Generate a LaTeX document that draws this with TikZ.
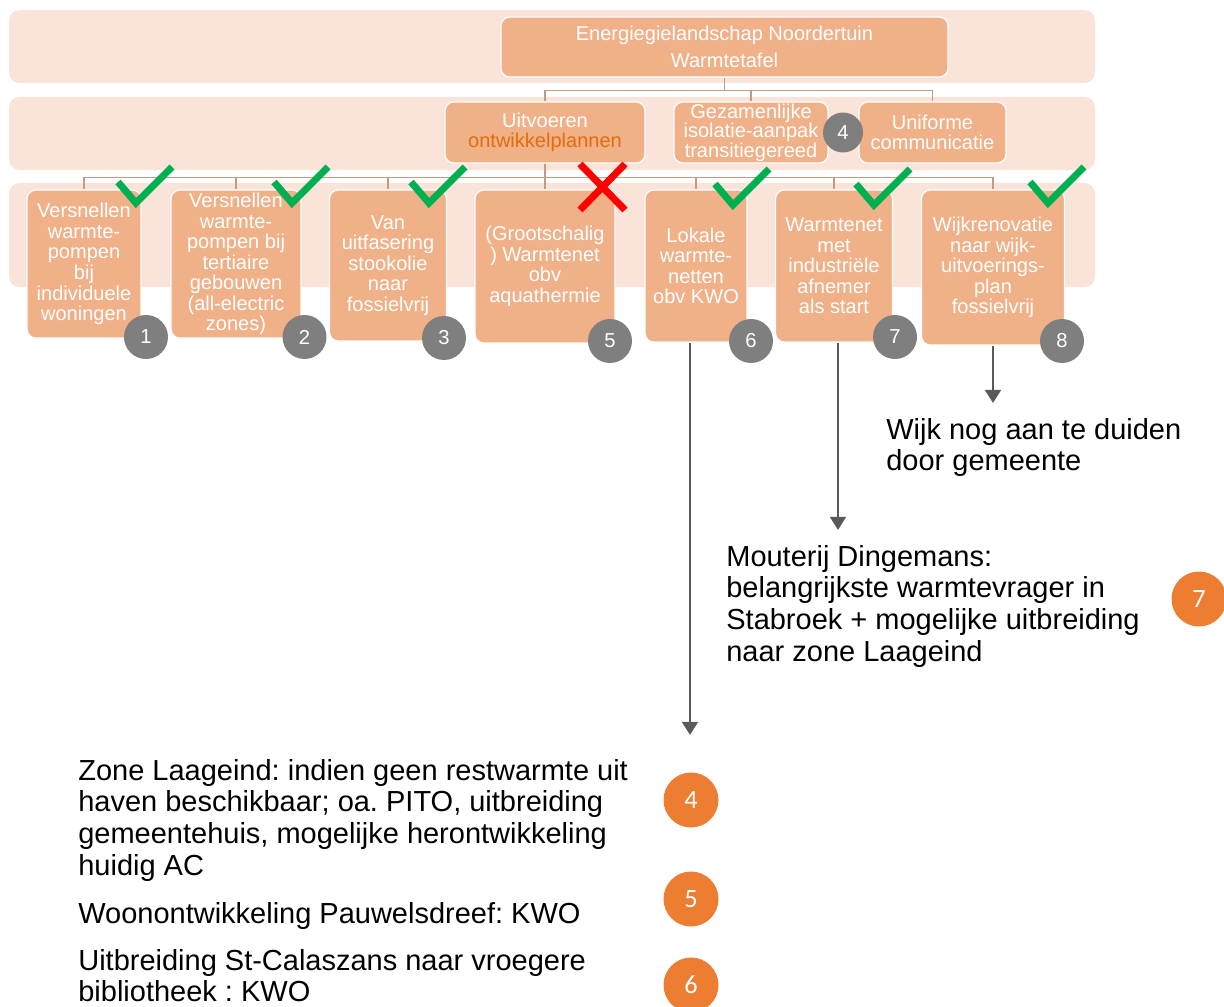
\documentclass[tikz,border=0pt]{standalone}
\usepackage{fontspec}
\setmainfont{Liberation Sans}
\newfontfamily\calibrifont{Carlito}
\usetikzlibrary{arrows.meta}
\definecolor{bandpink}{HTML}{FAE3D9}
\definecolor{boxsalmon}{HTML}{F0B088}
\definecolor{linkbrown}{HTML}{C49A82}
\definecolor{badgegray}{HTML}{7F7F7F}
\definecolor{okgreen}{HTML}{00B050}
\definecolor{arrowgray}{HTML}{595A5E}
\definecolor{orangebadge}{HTML}{ED7D31}
\definecolor{planorange}{HTML}{E46C0A}
\newcommand{\okmark}[1]{\draw[okline] (#1) ++(-18,-21) -- ++(18,21) -- ++(36,-36);}
\frenchspacing

\begin{document}
\begin{tikzpicture}[x=0.02cm, y=-0.02cm,
  band/.style={fill=bandpink, rounded corners=6pt},
  box/.style={draw=white, line width=0.7pt, fill=boxsalmon, rounded corners=5pt, text=white, align=center, inner sep=0pt},
  wh/.style 2 args={minimum width=#1*0.02cm, minimum height=#2*0.02cm},
  mid/.style={font=\fontsize{11.4}{11.2}\selectfont},
  row/.style={font=\fontsize{11.4}{11.7}\selectfont},
  num/.style={circle, fill=badgegray, text=white, inner sep=0pt, minimum size=0.88cm, font=\fontsize{11.5}{12}\selectfont},
  onum/.style={circle, fill=orangebadge, text=white, inner sep=0pt, minimum size=1.1cm, font=\calibrifont\fontsize{15}{16}\selectfont},
  note/.style={anchor=north west, align=left, inner sep=0pt, font=\fontsize{16.5}{18}\selectfont},
  link/.style={draw=linkbrown, line width=1pt},
  okline/.style={draw=okgreen, line width=4pt},
  xline/.style={draw=red, line width=4pt},
  arr/.style={-{Triangle[length=7.5pt, width=9pt]}, draw=arrowgray, line width=1.5pt}]
\useasboundingbox (0,0) rectangle (1224,1007);
\fill[band] (9,10) rectangle (1095,83);
\fill[band] (9,97) rectangle (1095,170);
\fill[band] (9,183) rectangle (1095,287);
\node[box, wh={447}{60}, font=\fontsize{11.4}{15.3}\selectfont] (top) at (724.5,47) {Energiegielandschap Noordertuin\\Warmtetafel};
\node[box, mid, wh={200}{61}] (uitv) at (545,132.5) {Uitvoeren\\\textcolor{planorange}{ontwikkelplannen}};
\node[box, mid, wh={154}{61}] (isol) at (751,132.5) {Gezamenlijke\\isolatie-aanpak\\transitiegereed};
\node[box, mid, wh={147}{61}] (unif) at (932.5,132.5) {Uniforme\\communicatie};
\node[box, row, wh={114}{148}] (b1) at (84,264) {Versnellen\\warmte-\\pompen\\bij\\individuele\\woningen};
\node[box, row, wh={130}{148}] (b2) at (236,264) {Versnellen\\warmte-\\pompen bij\\tertiaire\\gebouwen\\(all-electric\\zones)};
\node[box, row, wh={117}{151}] (b3) at (388,265.5) {Van\\uitfasering\\stookolie\\naar\\fossielvrij};
\node[box, row, wh={140}{153}] (b5) at (545,266.5) {(Grootschalig\\) Warmtenet\\obv\\aquathermie};
\node[box, row, wh={102}{152}] (b6) at (696,266) {Lokale\\warmte-\\netten\\obv KWO};
\node[box, row, wh={117}{152}] (b7) at (834,266) {Warmtenet\\met\\industriële\\afnemer\\als start};
\node[box, row, wh={143}{155}] (b8) at (993,267.5) {Wijkrenovatie\\naar wijk-\\uitvoerings-\\plan\\fossielvrij};
\foreach \m in {uitv,isol,unif} \draw[link] (top.south) -- ++(0,13) -| (\m.north);
\foreach \b in {b1,b2,b3,b5,b6,b7,b8} \draw[link] (uitv.south) -- ++(0,14) -| (\b.north);
\node[num, minimum size=0.8cm] (n4) at (843,132.5) {4};
\node[num] (n1) at (146,337) {1};
\node[num] (n2) at (304.5,337) {2};
\node[num] (n3) at (444,338) {3};
\node[num] (n5) at (610,341) {5};
\node[num] (n6) at (751,341) {6};
\node[num] (n7) at (895,337) {7};
\node[num] (n8) at (1062,341) {8};
\okmark{136,203} \okmark{292,203} \okmark{429,203}
\okmark{733,205} \okmark{874,205} \okmark{1048,203}
\draw[xline] (580,164) -- (625,210) (625,164) -- (580,210);
\coordinate (t6) at (690,735);
\coordinate (t7) at (838,530);
\coordinate (t8) at (993,403);
\draw[arr] (b6.south -| t6) -- (t6);
\draw[arr] (b7.south -| t7) -- (t7);
\draw[arr] (b8.south -| t8) -- (t8);
\node[note] (wijk) at (886,418) {Wijk nog aan te duiden\\door gemeente};
\node[note] (mout) at (726,545) {Mouterij Dingemans:\\belangrijkste warmtevrager in\\Stabroek + mogelijke uitbreiding\\naar zone Laageind};
\node[onum] (o7) at (1199,599) {7};
\node[note] (zone) at (78,759) {Zone Laageind: indien geen restwarmte uit\\haven beschikbaar; oa. PITO, uitbreiding\\gemeentehuis, mogelijke herontwikkeling\\huidig AC};
\node[note] (woon) at (78,902) {Woonontwikkeling Pauwelsdreef: KWO};
\node[note] (calas) at (78,949) {Uitbreiding St-Calaszans naar vroegere\\bibliotheek : KWO};
\node[onum] (o4) at (691,800) {4};
\node[onum] (o5) at (691,899) {5};
\node[onum] (o6) at (691,985) {6};
\end{tikzpicture}
\end{document}
